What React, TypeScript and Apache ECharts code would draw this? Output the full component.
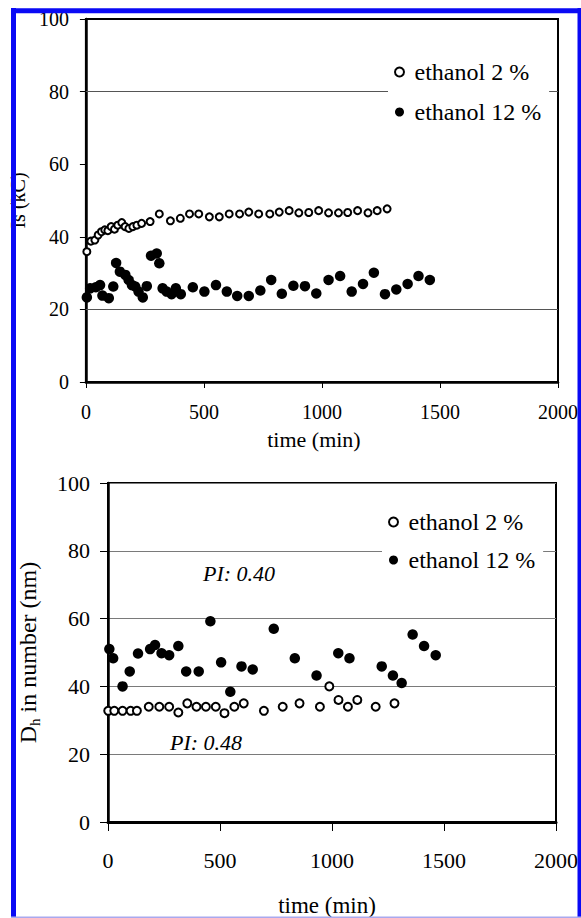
import React, { useEffect, useRef } from "react";
import * as echarts from "echarts";

const FONT = "Liberation Serif";

const SERIES_NAMES = ["ethanol 2 %", "ethanol 12 %"];
const X_TICKS = [0, 500, 1000, 1500, 2000];
const Y_TICKS = [0, 20, 40, 60, 80, 100];

// Top chart: Is (kC) vs time (min)
const topEthanol2: [number, number][] = [
  [4, 35.9], [21, 38.8], [38, 39.1], [52, 40.5], [66, 41.4], [80, 41.9], [93, 41.7],
  [107, 42.8], [121, 42.1], [135, 43.2], [152, 43.9], [166, 42.8], [182, 42.3], [199, 42.8],
  [216, 43.2], [236, 43.7], [272, 44.2], [311, 46.3], [358, 44.4], [400, 45.1], [439, 46.3],
  [478, 46.3], [523, 45.5], [565, 45.5], [607, 46.3], [651, 46.3], [690, 46.8], [732, 46.3],
  [779, 46.3], [819, 46.8], [861, 47.2], [902, 46.6], [944, 46.7], [986, 47.2], [1028, 46.6],
  [1070, 46.6], [1109, 46.7], [1151, 47.2], [1195, 46.6], [1234, 47.2], [1276, 47.7],
];
const topEthanol12: [number, number][] = [
  [4, 23.3], [18, 25.8], [42, 26.1], [60, 26.7], [70, 23.8], [97, 23.1], [116, 26.3],
  [128, 32.8], [144, 30.4], [167, 29.5], [181, 28.1], [195, 26.7], [209, 26.3], [223, 24.9],
  [241, 23.3], [258, 26.4], [276, 34.8], [300, 35.4], [311, 32.7], [325, 25.8], [342, 24.9],
  [363, 24.2], [381, 25.8], [402, 24.2], [453, 26.1], [502, 24.9], [551, 26.7], [597, 24.9],
  [641, 23.7], [690, 23.7], [739, 25.2], [785, 28.1], [830, 24.3], [879, 26.5], [928, 26.4],
  [976, 24.4], [1028, 28.1], [1077, 29.2], [1126, 24.9], [1174, 27.0], [1220, 30.1],
  [1267, 24.2], [1315, 25.5], [1363, 27.0], [1409, 29.2], [1457, 28.1],
];
const topGridValues = [20, 80];

// Bottom chart: Dh in number (nm) vs time (min)
const botEthanol2: [number, number][] = [
  [1, 32.8], [28, 32.8], [65, 32.8], [101, 32.8], [129, 32.8], [182, 34.0], [229, 34.0],
  [273, 34.0], [314, 32.3], [354, 35.0], [395, 34.0], [437, 34.0], [481, 34.0], [520, 32.1],
  [564, 34.0], [606, 35.0], [696, 32.8], [780, 34.0], [855, 35.0], [946, 34.0], [988, 40.0],
  [1029, 36.0], [1071, 34.0], [1113, 36.0], [1195, 34.0], [1279, 35.0],
];
const botEthanol12: [number, number][] = [
  [6, 51.0], [23, 48.3], [65, 40.0], [97, 44.4], [134, 49.7], [188, 51.0], [210, 52.2],
  [239, 49.8], [273, 49.2], [314, 51.9], [349, 44.4], [405, 44.4], [457, 59.2], [505, 47.1],
  [546, 38.4], [596, 45.9], [646, 45.0], [740, 57.0], [834, 48.3], [931, 43.2], [1028, 49.8],
  [1078, 48.3], [1222, 45.9], [1272, 43.2], [1311, 41.0], [1360, 55.3], [1411, 51.9],
  [1463, 49.2],
];
const PI_LABELS = ["PI: 0.40", "PI: 0.48"];

const X_MIN = X_TICKS[0];
const X_MAX = X_TICKS[X_TICKS.length - 1];
const X_INT = X_TICKS[1] - X_TICKS[0];
const Y_MIN = Y_TICKS[0];
const Y_MAX = Y_TICKS[Y_TICKS.length - 1];
const Y_INT = Y_TICKS[1] - Y_TICKS[0];

export default function App() {
  const ref = useRef<HTMLDivElement>(null);

  useEffect(() => {
    if (!ref.current) return;
    const chart = echarts.init(ref.current, undefined, { renderer: "svg" });

    const openStyle = { color: "#fff", borderColor: "#000", borderWidth: 2, opacity: 1 };
    const fillStyle = { color: "#000", borderColor: "#000", borderWidth: 0, opacity: 1 };
    const plain = (v: number) => String(v);

    const xAxisBase = (gridIndex: number, fs: number, margin: number, tickLen: number, lw: number, nameFs: number, nameGap: number, padRight: number) => ({
      gridIndex,
      type: "value",
      min: X_MIN,
      max: X_MAX,
      interval: X_INT,
      name: "time (min)",
      nameLocation: "middle",
      nameGap,
      nameTextStyle: { fontSize: nameFs, color: "#000", fontFamily: FONT, fontWeight: "normal", padding: [0, padRight, 0, 0] },
      axisLine: { show: true, onZero: false, lineStyle: { color: "#000", width: lw } },
      axisTick: { show: true, length: tickLen, lineStyle: { color: "#000", width: 1 } },
      axisLabel: { fontSize: fs, color: "#000", fontFamily: FONT, margin, formatter: plain },
      splitLine: { show: false },
    });

    const legendBase = (left: number, top: number, gap: number) => ({
      orient: "vertical",
      left,
      top,
      padding: [6, 8, 6, 6],
      backgroundColor: "#fff",
      itemGap: gap,
      itemWidth: 20,
      itemHeight: 9,
      data: SERIES_NAMES,
      selectedMode: false,
      textStyle: { fontSize: 24, color: "#000", fontFamily: FONT, fontWeight: "normal" },
    });

    const option: any = {
      animation: false,
      backgroundColor: "#fff",
      textStyle: { fontFamily: FONT },
      grid: [
        { left: 85, top: 19, width: 478, height: 363, show: true, borderColor: "#000", borderWidth: 2, backgroundColor: "transparent" },
        { left: 108, top: 483, width: 454, height: 344, show: true, borderColor: "#000", borderWidth: 2, backgroundColor: "transparent" },
      ],
      xAxis: [
        xAxisBase(0, 20, 20, 6, 2.5, 22, 46, 16),
        xAxisBase(1, 22, 27, 9, 3, 23, 72, 10),
      ],
      yAxis: [
        {
          gridIndex: 0,
          type: "value",
          min: Y_MIN,
          max: Y_MAX,
          interval: Y_INT,
          name: "Is (kC)",
          nameLocation: "middle",
          nameGap: 52,
          nameTextStyle: { fontSize: 20, color: "#000", fontFamily: FONT, fontWeight: "normal" },
          axisLine: { show: true, onZero: false, lineStyle: { color: "#000", width: 2.5 } },
          axisTick: { show: true, length: 6, lineStyle: { color: "#000", width: 1 } },
          axisLabel: { fontSize: 20, color: "#000", fontFamily: FONT, margin: 17, formatter: plain },
          splitLine: { show: false },
        },
        {
          gridIndex: 1,
          type: "value",
          min: Y_MIN,
          max: Y_MAX,
          interval: Y_INT,
          name: "{d|D}{s|h}{d| in number (nm)}",
          nameLocation: "middle",
          nameGap: 66,
          nameTextStyle: {
            color: "#000",
            fontFamily: FONT,
            fontWeight: "normal",
            rich: {
              d: { fontSize: 24, fontFamily: FONT, color: "#000", lineHeight: 28 },
              s: { fontSize: 15, fontFamily: FONT, color: "#000", lineHeight: 15, verticalAlign: "bottom" },
            },
          },
          axisLine: { show: true, onZero: false, lineStyle: { color: "#000", width: 2.5 } },
          axisTick: { show: true, length: 8, lineStyle: { color: "#000", width: 1 } },
          axisLabel: { fontSize: 22, color: "#000", fontFamily: FONT, margin: 18, formatter: plain },
          splitLine: { show: true, lineStyle: { color: "#7a7a7a", width: 1 } },
        },
      ],
      legend: [legendBase(388, 54, 16), legendBase(382, 504, 14)],
      series: [
        {
          name: SERIES_NAMES[0],
          type: "scatter",
          xAxisIndex: 0,
          yAxisIndex: 0,
          data: topEthanol2,
          symbol: "circle",
          symbolSize: 7,
          itemStyle: openStyle,
          z: 3,
          markLine: {
            silent: true,
            symbol: ["none", "none"],
            label: { show: false },
            lineStyle: { type: "solid", color: "#555", width: 1 },
            data: topGridValues.map((v) => ({ yAxis: v })),
            z: 1,
          },
        },
        {
          name: SERIES_NAMES[1],
          type: "scatter",
          xAxisIndex: 0,
          yAxisIndex: 0,
          data: topEthanol12,
          symbol: "circle",
          symbolSize: 10.5,
          itemStyle: fillStyle,
          z: 3,
        },
        {
          name: SERIES_NAMES[0],
          type: "scatter",
          xAxisIndex: 1,
          yAxisIndex: 1,
          data: botEthanol2,
          symbol: "circle",
          symbolSize: 8,
          itemStyle: openStyle,
          z: 3,
        },
        {
          name: SERIES_NAMES[1],
          type: "scatter",
          xAxisIndex: 1,
          yAxisIndex: 1,
          data: botEthanol12,
          symbol: "circle",
          symbolSize: 10.5,
          itemStyle: fillStyle,
          z: 3,
        },
      ],
      graphic: [
        {
          type: "text",
          x: 203,
          y: 573,
          z: 50,
          style: { text: PI_LABELS[0], fill: "#000", fontFamily: FONT, fontSize: 22, fontStyle: "italic", align: "left", verticalAlign: "middle" },
        },
        {
          type: "text",
          x: 170,
          y: 742,
          z: 50,
          style: { text: PI_LABELS[1], fill: "#000", fontFamily: FONT, fontSize: 22, fontStyle: "italic", align: "left", verticalAlign: "middle" },
        },
        { type: "line", z: 100, shape: { x1: 13.5, y1: 8, x2: 13.5, y2: 918 }, style: { stroke: "#0a0af5", lineWidth: 5 } },
        { type: "line", z: 100, shape: { x1: 11, y1: 10.8, x2: 581, y2: 10.8 }, style: { stroke: "#0a0af5", lineWidth: 5 } },
        { type: "line", z: 100, shape: { x1: 579.5, y1: 8, x2: 579.5, y2: 918 }, style: { stroke: "#0a0af5", lineWidth: 4 } },
        { type: "line", z: 100, shape: { x1: 11, y1: 917.2, x2: 581, y2: 917.2 }, style: { stroke: "#a9a9ee", lineWidth: 1.5 } },
      ],
    };

    chart.setOption(option);
    return () => chart.dispose();
  }, []);

  return (
    <div
      ref={ref}
      style={{ position: "absolute", left: 0, top: 0, width: 581, height: 918, background: "#fff" }}
    />
  );
}
